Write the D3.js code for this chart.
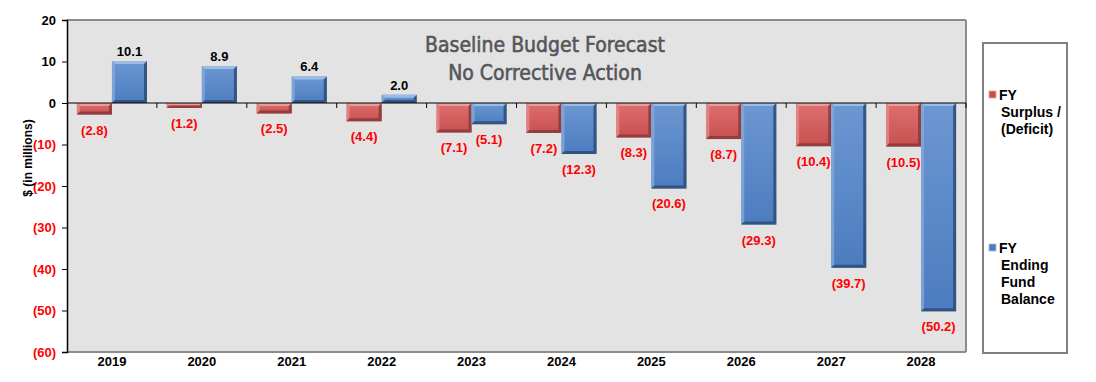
<!DOCTYPE html>
<html><head><meta charset="utf-8">
<script src="https://cdn.jsdelivr.net/npm/d3@7"></script>
<style>body{margin:0;background:#fff}svg{display:block;font-family:"Liberation Sans",Arial,sans-serif}</style>
</head><body><svg id="c" width="1096" height="382"></svg>
<script>
const years = ["2019","2020","2021","2022","2023","2024","2025","2026","2027","2028"];
const surplus = [-2.8,-1.2,-2.5,-4.4,-7.1,-7.2,-8.3,-8.7,-10.4,-10.5];
const balance = [10.1,8.9,6.4,2.0,-5.1,-12.3,-20.6,-29.3,-39.7,-50.2];
const yTicks = [20,10,0,-10,-20,-30,-40,-50,-60];
const seriesNames = [["FY","Surplus /","(Deficit)"],["FY","Ending","Fund","Balance"]];
const titleLines = ["Baseline Budget Forecast","No Corrective Action"];

const svg = d3.select("#c");
const L=67,R=966,T=20,B=352;
const x = d3.scaleBand().domain(years).range([L,R]).paddingInner(0.22).paddingOuter(0.11);
const y = d3.scaleLinear().domain([-60,20]).range([B,T]);
const band = d3.scaleBand().domain([0,1]).range([0,x.bandwidth()]);

const defs=svg.append("defs");
const colors=[{id:"gr",top:"#de7070",bot:"#c94f4f",light:"#eaa2a2",dark:"#8a3a3a",side:"#e28a8a"},
              {id:"gb",top:"#6c97d2",bot:"#4c7cc0",light:"#a2c0e6",dark:"#2e4c74",side:"#86a9da"}];
colors.forEach(c=>{
  const g=defs.append("linearGradient").attr("id",c.id).attr("x1",0).attr("y1",0).attr("x2",0).attr("y2",1);
  g.append("stop").attr("offset",0).attr("stop-color",c.top);
  g.append("stop").attr("offset",1).attr("stop-color",c.bot);
});

svg.append("rect").attr("x",L).attr("y",T).attr("width",R-L).attr("height",B-T).attr("fill","#e3e3e3");
svg.append("line").attr("x1",L).attr("x2",R).attr("y1",T).attr("y2",T).attr("stroke","#8c8c8c").attr("stroke-width",2);
svg.append("line").attr("x1",R).attr("x2",R).attr("y1",T).attr("y2",B).attr("stroke","#8c8c8c").attr("stroke-width",2);
svg.append("line").attr("x1",L).attr("x2",R).attr("y1",B).attr("y2",B).attr("stroke","#8c8c8c").attr("stroke-width",2);

titleLines.forEach((t,i)=>svg.append("text").attr("x",545).attr("y",52+i*28).attr("text-anchor","middle")
  .attr("font-family","DejaVu Sans Condensed, DejaVu Sans, sans-serif")
  .attr("font-size",21).attr("fill","#55555a").attr("stroke","#55555a").attr("stroke-width",0.55).text(t));

function bevelBar(g,x0,y0,w,h,c){
  const b=Math.min(3,h/2,w/2);
  g.append("rect").attr("x",x0).attr("y",y0).attr("width",w).attr("height",h).attr("fill",`url(#${c.id})`);
  const poly=(pts,f,o)=>g.append("polygon").attr("points",pts.map(p=>p.join(",")).join(" ")).attr("fill",f).attr("opacity",o);
  poly([[x0,y0],[x0+w,y0],[x0+w-b,y0+b],[x0+b,y0+b]],c.light,0.9);
  poly([[x0,y0],[x0+b,y0+b],[x0+b,y0+h-b],[x0,y0+h]],c.side,0.8);
  poly([[x0+w,y0],[x0+w,y0+h],[x0+w-b,y0+h-b],[x0+w-b,y0+b]],c.dark,0.85);
  poly([[x0,y0+h],[x0+w,y0+h],[x0+w-b,y0+h-b],[x0+b,y0+h-b]],c.dark,0.85);
}

const gBars=svg.append("g");
[surplus,balance].forEach((vals,si)=>{
  vals.forEach((v,i)=>{
    const x0=x(years[i])+band(si), w=band.bandwidth();
    const y0=y(Math.max(0,v)), h=Math.abs(y(v)-y(0));
    bevelBar(gBars,x0,y0,w,h,colors[si]);
    const neg=v<0;
    svg.append("text").attr("x",x0+w/2).attr("y",neg?y(v)+20:y(v)-5).attr("text-anchor","middle")
      .attr("font-size",13).attr("font-weight","bold").attr("fill",neg?"#ff0000":"#000")
      .text(neg?"("+Math.abs(v).toFixed(1)+")":v.toFixed(1));
  });
});

svg.append("line").attr("x1",L).attr("x2",R).attr("y1",y(0)).attr("y2",y(0)).attr("stroke","#000").attr("stroke-width",1);
years.forEach((yr,i)=>{
  const xx=L+(R-L)*(i+1)/years.length;
  svg.append("line").attr("x1",xx).attr("x2",xx).attr("y1",y(0)).attr("y2",y(0)+5).attr("stroke","#000");
});

const ya=svg.append("g").attr("transform",`translate(${L},0)`).call(d3.axisLeft(y).tickValues(yTicks).tickSize(5).tickPadding(6)
  .tickFormat(d=>d<0?"("+Math.abs(d)+")":d));
ya.select(".domain").attr("stroke","#000").attr("stroke-width",1.5);
ya.selectAll("text").attr("font-size",13).attr("font-weight","bold").attr("font-family","Liberation Sans, Arial, sans-serif")
  .attr("fill",d=>d<0?"#ff0000":"#000");
ya.selectAll(".tick line").attr("stroke","#000");

years.forEach(yr=>svg.append("text").attr("x",x(yr)+x.bandwidth()/2).attr("y",366).attr("text-anchor","middle")
  .attr("font-size",13).attr("font-weight","bold").text(yr));

svg.append("text").attr("transform","translate(32,158) rotate(-90)").attr("text-anchor","middle")
  .attr("font-size",12).attr("font-weight","bold").text("$ (in millions)");

svg.append("rect").attr("x",983).attr("y",43).attr("width",84).attr("height",310).attr("fill","#fff").attr("stroke","#808080").attr("stroke-width",2);
const legY=[95,248];
seriesNames.forEach((lines,si)=>{
  svg.append("rect").attr("x",989).attr("y",legY[si]-4).attr("width",7).attr("height",7).attr("fill",colors[si].bot).attr("stroke",colors[si].light).attr("stroke-width",0.8);
  lines.forEach((t,j)=>svg.append("text").attr("x",j===0?999:1001).attr("y",legY[si]+5+j*17)
    .attr("font-size",14).attr("font-weight","bold").text(t));
});
</script></body></html>
